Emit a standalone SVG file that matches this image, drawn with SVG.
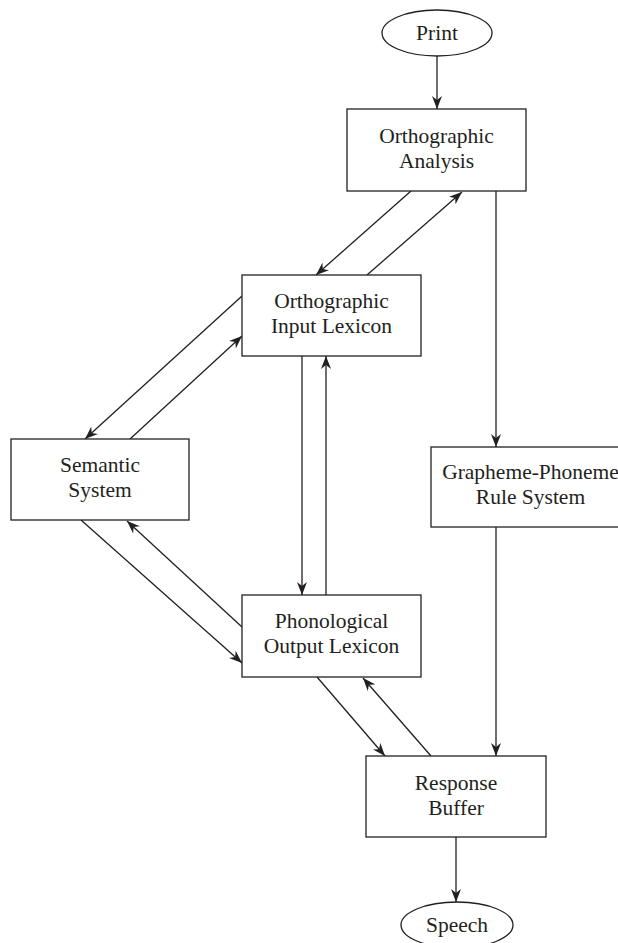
<svg xmlns="http://www.w3.org/2000/svg" width="618" height="943" viewBox="0 0 618 943">
<style>
.box{fill:#fff;stroke:#231f20;stroke-width:1.3}
.lbl{font-family:"Liberation Serif","Times New Roman",serif;font-size:21.5px;fill:#231f20;text-anchor:middle}
.con{stroke:#231f20;stroke-width:1.3;fill:none;marker-end:url(#ah)}
</style>
<defs>
<marker id="ah" markerUnits="userSpaceOnUse" markerWidth="14" markerHeight="11" refX="13" refY="5.5" orient="auto">
<path d="M0,0.5 L13,5.5 L0,10.5 L4,5.5 z" fill="#231f20"/>
</marker>
</defs>
<rect width="618" height="943" fill="#fff"/>
<g id="connectors">
<line class="con" x1="437" y1="56" x2="437" y2="109"/>
<line class="con" x1="411" y1="191" x2="316" y2="275"/>
<line class="con" x1="367" y1="275" x2="462" y2="192"/>
<line class="con" x1="496" y1="191" x2="496" y2="447"/>
<line class="con" x1="242" y1="296" x2="85" y2="439"/>
<line class="con" x1="130" y1="439" x2="242" y2="336"/>
<line class="con" x1="302" y1="356" x2="302" y2="595"/>
<line class="con" x1="326" y1="595" x2="326" y2="356"/>
<line class="con" x1="81" y1="520" x2="242" y2="663"/>
<line class="con" x1="242" y1="627" x2="127" y2="521"/>
<line class="con" x1="317" y1="677" x2="385" y2="756"/>
<line class="con" x1="431" y1="756" x2="363" y2="678"/>
<line class="con" x1="496" y1="527" x2="496" y2="756"/>
<line class="con" x1="456" y1="837" x2="456" y2="902"/>
</g>
<g id="print">
<ellipse class="box" cx="437" cy="33" rx="55" ry="23"/>
<text class="lbl" x="437" y="40">Print</text>
</g>
<g id="orthographic-analysis">
<rect class="box" x="347" y="109" width="179" height="82"/>
<text class="lbl" x="436.5" y="143">Orthographic</text>
<text class="lbl" x="436.5" y="168">Analysis</text>
</g>
<g id="orthographic-input-lexicon">
<rect class="box" x="242" y="275" width="179" height="81"/>
<text class="lbl" x="331.5" y="308">Orthographic</text>
<text class="lbl" x="331.5" y="333">Input Lexicon</text>
</g>
<g id="semantic-system">
<rect class="box" x="11" y="439" width="178" height="81"/>
<text class="lbl" x="100" y="472">Semantic</text>
<text class="lbl" x="100" y="497">System</text>
</g>
<g id="grapheme-phoneme">
<rect class="box" x="431" y="447" width="200" height="80"/>
<text class="lbl" x="530.5" y="479">Grapheme-Phoneme</text>
<text class="lbl" x="530.5" y="504">Rule System</text>
</g>
<g id="phonological-output-lexicon">
<rect class="box" x="242" y="595" width="179" height="82"/>
<text class="lbl" x="331.5" y="628">Phonological</text>
<text class="lbl" x="331.5" y="653">Output Lexicon</text>
</g>
<g id="response-buffer">
<rect class="box" x="366" y="756" width="180" height="81"/>
<text class="lbl" x="456" y="790">Response</text>
<text class="lbl" x="456" y="815">Buffer</text>
</g>
<g id="speech">
<ellipse class="box" cx="457" cy="925" rx="56" ry="23"/>
<text class="lbl" x="457" y="932">Speech</text>
</g>
</svg>
